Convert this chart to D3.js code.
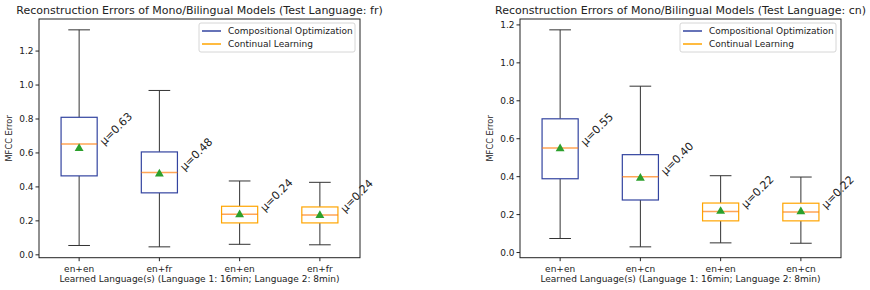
<!DOCTYPE html>
<html>
<head>
<meta charset="utf-8">
<title>Reconstruction Errors</title>
<script src="https://cdn.jsdelivr.net/npm/d3@7"></script>
<style>
    body { margin: 0; background: #fff; font-family: "DejaVu Sans", sans-serif; }
    text { fill: #222; }
</style>
</head>
<body>
<div id="chart"></div>
<script>
// box stats per group: [low whisker, q1, median, q3, high whisker]
var frLabels = ["en+en", "en+fr", "en+en", "en+fr"];
var frStats = [
    [0.055, 0.465, 0.652, 0.810, 1.325],
    [0.047, 0.365, 0.485, 0.606, 0.968],
    [0.062, 0.188, 0.239, 0.286, 0.435],
    [0.059, 0.188, 0.235, 0.282, 0.427]
];
var frMeans = [0.63, 0.48, 0.24, 0.235];
var frMeanText = ["0.63", "0.48", "0.24", "0.24"];

var cnLabels = ["en+en", "en+cn", "en+en", "en+cn"];
var cnStats = [
    [0.074, 0.389, 0.551, 0.705, 1.174],
    [0.030, 0.277, 0.400, 0.516, 0.877],
    [0.051, 0.167, 0.216, 0.261, 0.405],
    [0.049, 0.167, 0.214, 0.260, 0.398]
];
var cnMeans = [0.55, 0.395, 0.22, 0.218];
var cnMeanText = ["0.55", "0.40", "0.22", "0.22"];

var methods = ["co", "co", "cl", "cl"];
var legendNames = ["Compositional Optimization", "Continual Learning"];
var yTicks = [0, 0.2, 0.4, 0.6, 0.8, 1.0, 1.2];

var edgeColor = { co: "#3344a0", cl: "#ffa500" };
var medianColor = "#ff7f0e";
var meanColor = "#2ca02c";

var svg = d3.select("#chart").append("svg")
    .attr("width", 870).attr("height", 290);

function panel(left, right, title, labels, stats, means, meanText) {
    var top = 19, bottom = 257.7;
    var lo = d3.min(stats, function(d) { return d[0]; });
    var hi = d3.max(stats, function(d) { return d[4]; });
    var pad = (hi - lo) * 0.05;

    var x = d3.scaleLinear().domain([0.5, labels.length + 0.5]).range([left, right]);
    var y = d3.scaleLinear().domain([lo - pad, hi + pad]).range([bottom, top]);
    var g = svg.append("g");

    // boxes
    stats.forEach(function(s, i) {
        var cx = x(i + 1);
        var bw = x(1.225) - x(1);
        var cw = x(1.135) - x(1);
        var col = edgeColor[methods[i]];
        g.append("line").attr("x1", cx).attr("x2", cx).attr("y1", y(s[0])).attr("y2", y(s[1]))
            .attr("stroke", "#333").attr("stroke-width", 1);
        g.append("line").attr("x1", cx).attr("x2", cx).attr("y1", y(s[3])).attr("y2", y(s[4]))
            .attr("stroke", "#333").attr("stroke-width", 1);
        g.append("line").attr("x1", cx - cw).attr("x2", cx + cw).attr("y1", y(s[0])).attr("y2", y(s[0]))
            .attr("stroke", "#333").attr("stroke-width", 1);
        g.append("line").attr("x1", cx - cw).attr("x2", cx + cw).attr("y1", y(s[4])).attr("y2", y(s[4]))
            .attr("stroke", "#333").attr("stroke-width", 1);
        g.append("rect").attr("x", cx - bw).attr("width", bw * 2)
            .attr("y", y(s[3])).attr("height", y(s[1]) - y(s[3]))
            .attr("fill", "white").attr("stroke", col).attr("stroke-width", 1.2);
        g.append("line").attr("x1", cx - bw).attr("x2", cx + bw).attr("y1", y(s[2])).attr("y2", y(s[2]))
            .attr("stroke", medianColor).attr("stroke-opacity", 0.7).attr("stroke-width", 1.5);
        var my = y(means[i]);
        g.append("path").attr("d", d3.symbol(d3.symbolTriangle, 34)())
            .attr("transform", "translate(" + cx + "," + (my + 0.5) + ")")
            .attr("fill", meanColor);
        g.append("text")
            .attr("transform", "translate(" + (cx + 25) + "," + (my - 2) + ") rotate(-45)")
            .attr("font-size", 11)
            .text("\u03bc=" + meanText[i]);
    });

    // frame
    g.append("rect").attr("x", left).attr("y", top).attr("width", right - left).attr("height", bottom - top)
        .attr("fill", "none").attr("stroke", "#222").attr("stroke-width", 1);

    // y axis
    yTicks.forEach(function(t) {
        if (y(t) < top) return;
        g.append("line").attr("x1", left - 3.5).attr("x2", left).attr("y1", y(t)).attr("y2", y(t))
            .attr("stroke", "#222");
        g.append("text").attr("x", left - 5.5).attr("y", y(t)).attr("dy", "0.35em")
            .attr("text-anchor", "end").attr("font-size", 9).text(t.toFixed(1));
    });
    // x axis
    labels.forEach(function(l, i) {
        var cx = x(i + 1);
        g.append("line").attr("x1", cx).attr("x2", cx).attr("y1", bottom).attr("y2", bottom + 3.5)
            .attr("stroke", "#222");
        g.append("text").attr("x", cx).attr("y", bottom + 14).attr("text-anchor", "middle")
            .attr("font-size", 9).text(l);
    });

    g.append("text").attr("x", (left + right) / 2).attr("y", 14).attr("text-anchor", "middle")
        .attr("font-size", 11).text(title);
    g.append("text").attr("x", (left + right) / 2).attr("y", 282).attr("text-anchor", "middle")
        .attr("font-size", 9).text("Learned Language(s) (Language 1: 16min; Language 2: 8min)");
    g.append("text").attr("transform", "translate(" + (left - 27) + "," + ((top + bottom) / 2) + ") rotate(-90)")
        .attr("text-anchor", "middle").attr("font-size", 8.3).text("MFCC Error");

    // legend
    var lw = 156, lh = 29;
    var lx = right - 5 - lw, ly = top + 4;
    g.append("rect").attr("x", lx).attr("y", ly).attr("width", lw).attr("height", lh)
        .attr("rx", 2).attr("fill", "white").attr("fill-opacity", 0.8)
        .attr("stroke", "#ccc").attr("stroke-width", 0.8);
    legendNames.forEach(function(n, i) {
        var yy = ly + 8 + i * 13;
        g.append("line").attr("x1", lx + 3).attr("x2", lx + 22).attr("y1", yy).attr("y2", yy)
            .attr("stroke", edgeColor[i == 0 ? "co" : "cl"]).attr("stroke-width", 1.5);
        g.append("text").attr("x", lx + 29).attr("y", yy).attr("dy", "0.35em")
            .attr("font-size", 9).text(n);
    });
}

panel(39, 360, "Reconstruction Errors of Mono/Bilingual Models (Test Language: fr)",
    frLabels, frStats, frMeans, frMeanText);
panel(520, 841, "Reconstruction Errors of Mono/Bilingual Models (Test Language: cn)",
    cnLabels, cnStats, cnMeans, cnMeanText);
</script>
</body>
</html>
